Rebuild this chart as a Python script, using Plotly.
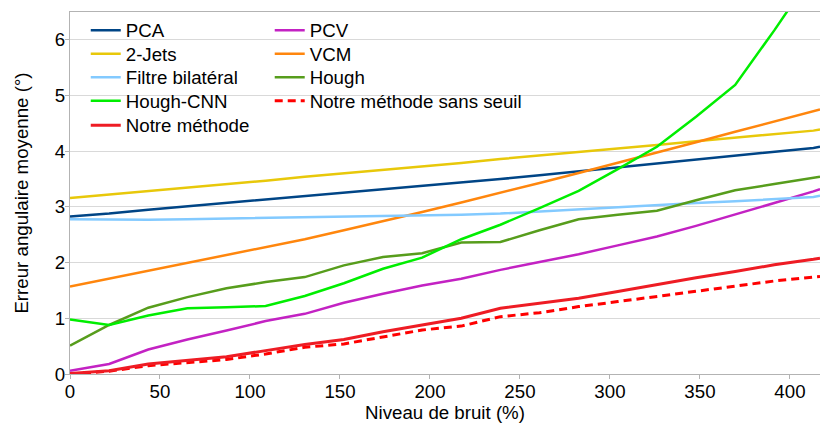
import plotly.graph_objects as go

# Noise levels (%) – sampled every ~21.74 %, last value read at the right edge of the plot
noise = [0, 21.74, 43.48, 65.22, 86.96, 108.70, 130.43, 152.17, 173.91, 195.65,
         217.39, 239.13, 260.87, 282.61, 304.35, 326.09, 347.83, 369.57, 391.30, 413.04, 416.7]

pca = [2.83, 2.88, 2.95, 3.01, 3.07, 3.13, 3.19, 3.25, 3.31, 3.37, 3.44, 3.50, 3.57, 3.64,
       3.70, 3.77, 3.84, 3.91, 3.98, 4.06, 4.08]
jets = [3.16, 3.22, 3.28, 3.35, 3.41, 3.47, 3.54, 3.60, 3.67, 3.73, 3.79, 3.86, 3.92, 3.99,
        4.05, 4.11, 4.18, 4.24, 4.31, 4.37, 4.39]
bilateral = [2.78, 2.77, 2.77, 2.78, 2.79, 2.80, 2.81, 2.82, 2.83, 2.85, 2.86, 2.88, 2.92, 2.96,
             3.00, 3.03, 3.07, 3.10, 3.14, 3.18, 3.20]
hough_cnn = [0.98, 0.88, 1.05, 1.18, 1.20, 1.22, 1.40, 1.63, 1.89, 2.09, 2.42, 2.68, 2.98, 3.29,
             3.68, 4.08, 4.62, 5.19, 6.17, 7.2, 7.3]
notre = [0.01, 0.06, 0.18, 0.24, 0.31, 0.42, 0.53, 0.62, 0.76, 0.88, 1.00, 1.18, 1.27, 1.36,
         1.48, 1.61, 1.73, 1.84, 1.96, 2.06, 2.08]
pcv = [0.06, 0.18, 0.44, 0.62, 0.78, 0.95, 1.08, 1.28, 1.44, 1.59, 1.71, 1.87, 2.01, 2.15,
       2.31, 2.47, 2.66, 2.86, 3.07, 3.28, 3.32]
vcm = [1.57, 1.71, 1.85, 1.99, 2.13, 2.27, 2.42, 2.58, 2.74, 2.91, 3.08, 3.25, 3.43, 3.61,
       3.79, 3.97, 4.16, 4.35, 4.54, 4.72, 4.75]
hough = [0.51, 0.88, 1.19, 1.38, 1.54, 1.65, 1.74, 1.95, 2.10, 2.17, 2.36, 2.37, 2.58, 2.78,
         2.86, 2.93, 3.12, 3.30, 3.41, 3.51, 3.54]
sans_seuil = [0.00, 0.05, 0.15, 0.21, 0.26, 0.36, 0.48, 0.54, 0.67, 0.79, 0.86, 1.03, 1.10, 1.21,
              1.30, 1.39, 1.49, 1.58, 1.67, 1.74, 1.75]

x_ticks = [0, 50, 100, 150, 200, 250, 300, 350, 400]
y_ticks = [0, 1, 2, 3, 4, 5, 6]

FONT = "Liberation Sans, Arial, sans-serif"
FS = 18.7

# (name, values, colour, width, dash, legend column, legend row)
series = [
    ("PCA", pca, "#004586", 2.5, "solid", 0, 0),
    ("PCV", pcv, "#c322c3", 2.5, "solid", 1, 0),
    ("2-Jets", jets, "#e8c80a", 2.5, "solid", 0, 1),
    ("VCM", vcm, "#ff860d", 2.5, "solid", 1, 1),
    ("Filtre bilatéral", bilateral, "#83caff", 2.5, "solid", 0, 2),
    ("Hough", hough, "#579d1c", 2.5, "solid", 1, 2),
    ("Hough-CNN", hough_cnn, "#00ee00", 2.5, "solid", 0, 3),
    ("Notre méthode sans seuil", sans_seuil, "#ff0000", 3, "8px,5px", 1, 3),
    ("Notre méthode", notre, "#ee1c24", 3, "solid", 0, 4),
]

legend_x = [0.021, 0.2663]
legend_y = [1.0014, 0.9365, 0.8716, 0.8067, 0.7390]

fig = go.Figure()
layout_legends = {}
for k, (name, vals, col, w, dash, c, r) in enumerate(series):
    key = "legend" if k == 0 else f"legend{k + 1}"
    fig.add_trace(go.Scatter(x=noise, y=vals, name=name, mode="lines",
                             line=dict(color=col, width=w, dash=dash), legend=key))
    layout_legends[key] = dict(x=legend_x[c], y=legend_y[r], xanchor="left", yanchor="top",
                               bgcolor="rgba(0,0,0,0)", itemwidth=30,
                               font=dict(family=FONT, size=FS, color="#000000"))

fig.update_layout(
    width=820, height=425,
    margin=dict(l=70, r=0, t=12, b=51),
    plot_bgcolor="white", paper_bgcolor="white",
    font=dict(family=FONT, size=FS, color="#000000"),
    showlegend=True,
    xaxis=dict(range=[0, 416.7], tickvals=x_ticks, showgrid=False, zeroline=False,
               showline=True, linecolor="#b3b3b3", linewidth=1, mirror=True,
               ticks="outside", ticklen=4, tickcolor="#b3b3b3", ticklabelstandoff=-3,
               tickfont=dict(size=FS, color="#000000"), automargin=False,
               title=dict(text="Niveau de bruit (%)", font=dict(size=FS), standoff=4)),
    yaxis=dict(range=[0, 6.5], tickvals=y_ticks, showgrid=True, gridcolor="#d9d9d9", gridwidth=1,
               zeroline=False, showline=True, linecolor="#b3b3b3", linewidth=1, mirror=True,
               ticks="outside", ticklen=4, tickcolor="#b3b3b3", ticklabelstandoff=-4,
               tickfont=dict(size=FS, color="#000000"), automargin=False,
               title=dict(text="Erreur angulaire moyenne (°)", font=dict(size=FS), standoff=21)),
    **layout_legends,
)

# remove the browser's default 8px page margin so the 820x425 figure fills the window exactly
fig.write_html("out.html",
               config={"displayModeBar": False},
               post_script="document.body.style.margin='0';document.body.style.overflow='hidden';")
